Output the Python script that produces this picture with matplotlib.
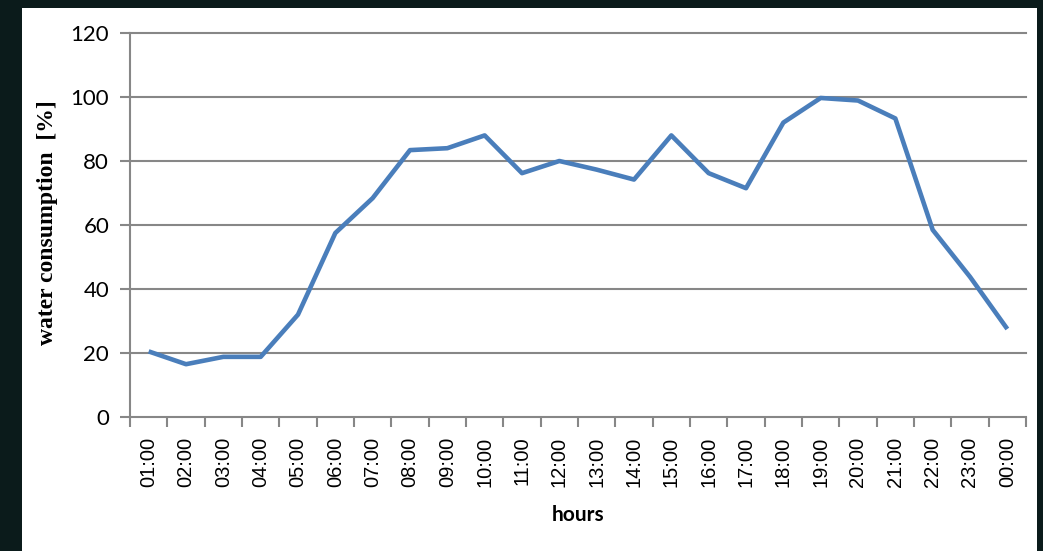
import matplotlib
matplotlib.use('Agg')
import matplotlib.pyplot as plt
from matplotlib.patches import Rectangle
import numpy as np

hours = ['01:00', '02:00', '03:00', '04:00', '05:00', '06:00', '07:00', '08:00',
         '09:00', '10:00', '11:00', '12:00', '13:00', '14:00', '15:00', '16:00',
         '17:00', '18:00', '19:00', '20:00', '21:00', '22:00', '23:00', '00:00']
consumption = [20.5, 16.5, 18.8, 18.8, 32, 57.5, 68.4, 83.4, 84, 88, 76.2, 80,
               77.3, 74.2, 88, 76.2, 71.5, 92, 99.7, 98.9, 93.3, 58.5, 43.8, 27.5]
yticks = [0, 20, 40, 60, 80, 100, 120]

grey = '#878787'

fig = plt.figure(figsize=(10.43, 5.51), dpi=100, facecolor='#0b1b1b')
# white panel inside the dark frame
fig.patches.append(Rectangle((22 / 1043, 0), 1015 / 1043, 543 / 551,
                             transform=fig.transFigure, facecolor='white',
                             edgecolor='none', zorder=-10))

ax = fig.add_axes([130 / 1043, 1 - 417 / 551, 896 / 1043, 384 / 551])
ax.set_facecolor('none')

x = np.arange(len(hours))
ax.plot(x, consumption, color='#4a7ebb', lw=3.3, solid_joinstyle='round',
        solid_capstyle='butt', zorder=3)

ax.set_xlim(-0.5, len(hours) - 0.5)
ax.set_ylim(0, 120)
ax.set_yticks(yticks)
for v in yticks[1:]:
    ax.axhline(v, color=grey, lw=1.5, zorder=1, clip_on=False)

ax.set_xticks(x)
ax.set_xticklabels(hours, rotation=90, family='Liberation Sans', fontsize=14.5)
ax.set_xticks(np.arange(-0.5, len(hours)), minor=True)
ax.tick_params(axis='x', which='major', length=0, pad=14)
ax.tick_params(axis='x', which='minor', length=7, width=1.5, color=grey,
               direction='out')
ax.tick_params(axis='y', length=7, width=1.5, color=grey, pad=8)
for lab in ax.get_yticklabels():
    lab.set_family('Lato')
    lab.set_fontsize(16)

for s in ['top', 'right']:
    ax.spines[s].set_visible(False)
for s in ['left', 'bottom']:
    ax.spines[s].set_color(grey)
    ax.spines[s].set_linewidth(1.5)

ax.set_ylabel('water consumption  [%]', family='Liberation Serif',
              fontweight='bold', fontsize=17)
ax.yaxis.set_label_coords(-0.08, 0.505)
ax.set_xlabel('hours', family='Lato', fontweight='bold', fontsize=15,
              labelpad=13)

plt.savefig('out.png', dpi=100, facecolor=fig.get_facecolor())
plt.close()
